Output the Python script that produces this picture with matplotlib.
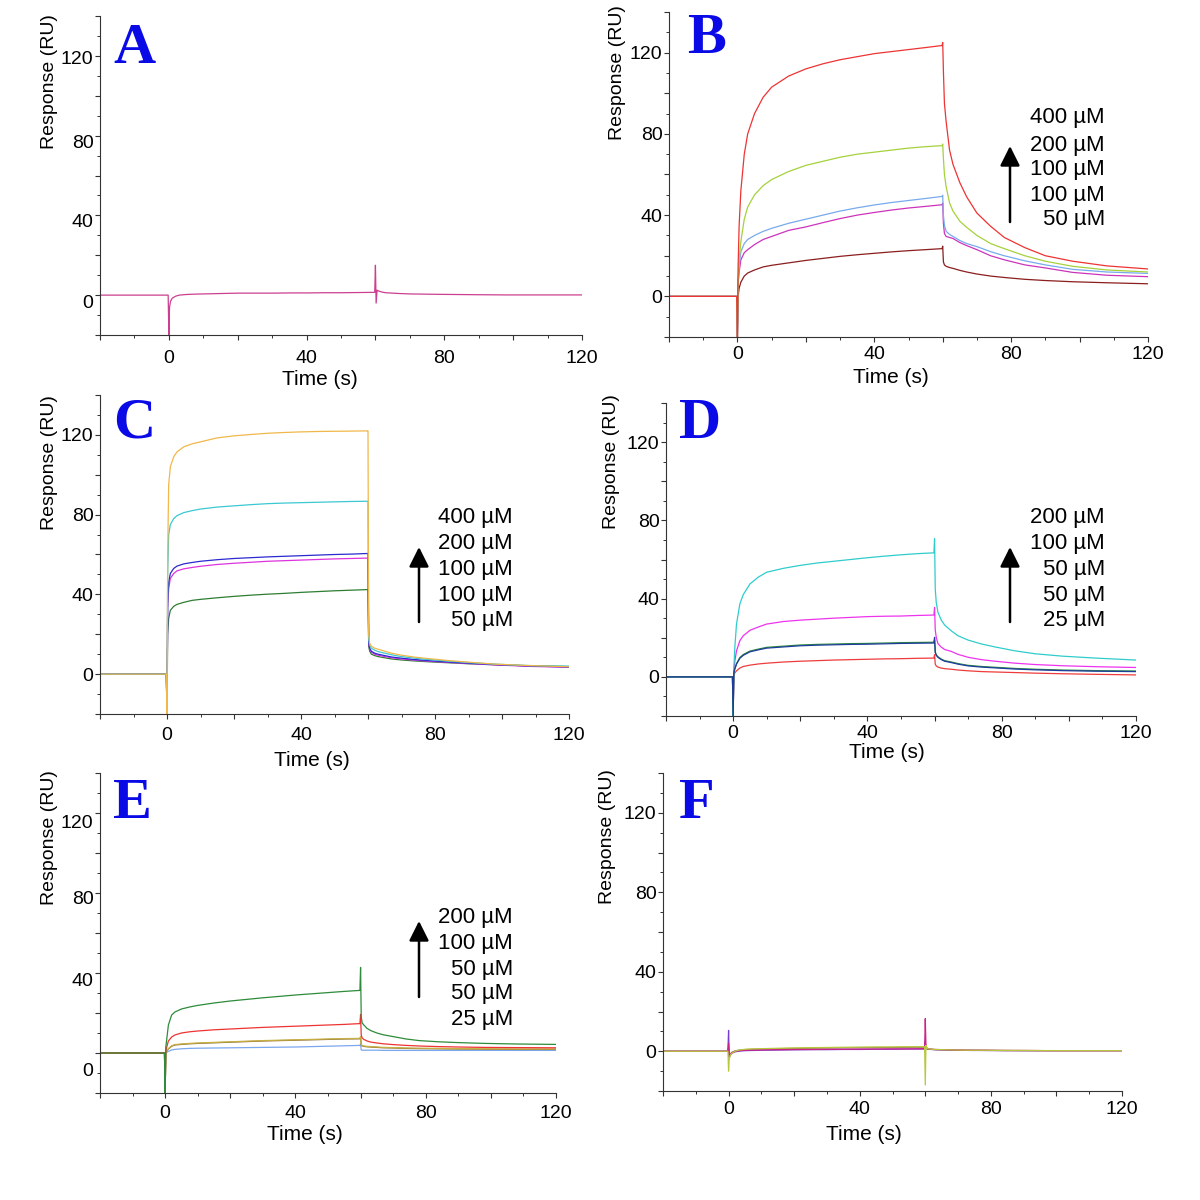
import matplotlib
matplotlib.use("Agg")
import matplotlib.pyplot as plt
from matplotlib import font_manager
from matplotlib.ticker import FixedLocator, MultipleLocator, FuncFormatter
from matplotlib.transforms import ScaledTranslation

# ---------------- data ----------------
TIME = [-20, -10, -0.2, 0.0, 0.2, 0.5, 1, 2, 3, 5, 7.5, 10, 15, 20, 25, 30, 35, 40, 45, 50,
        55, 59.8, 60.0, 60.2, 60.5, 61, 62, 63, 65, 67, 70, 74, 78, 84, 90, 98, 108, 120]

A_ctrl = [0, 0, 0, -20, -6, -3, -1.5, -0.5, 0, 0.3, 0.5, 0.6, 0.8, 1, 1, 1, 1.1, 1.1, 1.2, 1.2,
          1.3, 1.4, 15, -4, 2.5, 2, 1.5, 1.2, 1, 0.8, 0.6, 0.5, 0.4, 0.3, 0.2, 0.1, 0.1, 0.1]

B_400 = [0, 0, 0, -20, 15, 35, 52, 70, 80, 90, 98, 103, 108.5, 112, 114.5, 116.5, 118, 119.5, 120.5, 121.5,
         122.5, 123.5, 125, 111, 95, 86, 72, 65, 56, 49, 41, 34.5, 29, 24, 20, 17.3, 15, 13.5]
B_200 = [0, 0, 0, -20, 8, 18, 27, 38, 44, 50, 54.5, 57.5, 61.5, 64.5, 66.5, 68.5, 70, 71, 72, 73,
         73.7, 74.2, 75, 68, 60, 54, 46, 42, 37, 34, 30, 26, 23.5, 20, 17.3, 14.8, 13, 12]
B_100a = [0, 0, 0, -20, 8, 15, 22, 26, 28, 30, 32, 33.5, 36, 38, 40, 42, 43.6, 45, 46.2, 47.2,
          48.2, 49.2, 49.8, 40, 35, 32, 30.5, 29.5, 27.5, 26, 24.5, 22, 20, 17.5, 15.5, 13.3, 12, 11.3]
B_100b = [0, 0, 0, -20, 6, 12, 18, 21.5, 23, 25.5, 28, 29.5, 32.5, 34.2, 36.3, 38.3, 40, 41.3, 42.5, 43.5,
          44.3, 45.1, 46, 36, 31, 29.5, 29, 28.5, 26.5, 25, 23, 20, 18, 15.5, 14, 11.8, 10.4, 9.7]
B_50 = [0, 0, 0, -20, 0, 4, 7, 10, 11.5, 13, 14.5, 15.3, 16.5, 17.7, 18.7, 19.7, 20.5, 21.2, 21.9, 22.5,
        23, 23.5, 24.7, 17, 15.5, 14.8, 14.2, 13.8, 12.8, 12, 11, 10, 9.3, 8.4, 7.8, 7.2, 6.7, 6.2]

C_400 = [0, 0, 0, -20, 60, 95, 104, 109, 111.5, 114, 115.5, 116.5, 118.5, 119.5, 120.2, 120.8, 121.2, 121.5, 121.7, 121.8,
         121.9, 122, 122, 20, 15.5, 14, 13, 12.5, 11.5, 10.5, 9.5, 8.5, 7.8, 6.8, 6, 5, 4.3, 3.7]
C_200 = [0, 0, 0, -20, 50, 70, 75, 78, 79.5, 81, 82, 82.8, 83.8, 84.4, 85, 85.5, 85.8, 86, 86.2, 86.4,
         86.6, 86.7, 86.7, 18, 14.5, 13, 12, 11.3, 10.5, 9.7, 8.8, 8, 7.3, 6.5, 5.8, 5, 4.3, 4.0]
C_100a = [0, 0, 0, -20, 35, 46, 50.5, 53, 54.2, 55.3, 56, 56.6, 57.4, 58, 58.4, 58.8, 59.1, 59.4, 59.7, 60,
          60.2, 60.5, 60.5, 16, 13, 11.5, 10.5, 10, 9.3, 8.6, 8, 7.3, 6.8, 6.1, 5.5, 4.8, 4.1, 3.6]
C_100b = [0, 0, 0, -20, 33, 43, 48, 50.5, 51.8, 52.8, 53.5, 54.1, 55, 55.6, 56.1, 56.6, 56.9, 57.2, 57.5, 57.8,
          58, 58.2, 58.2, 15.5, 12.5, 11, 10, 9.5, 8.8, 8.2, 7.6, 7, 6.5, 5.9, 5.3, 4.6, 3.9, 3.4]
C_50 = [0, 0, 0, -20, 20, 28, 32, 34, 35, 36, 37, 37.5, 38.3, 39, 39.6, 40.1, 40.5, 41, 41.4, 41.8,
        42.1, 42.4, 42.4, 14, 11.5, 10, 9.3, 8.8, 8.2, 7.6, 7.1, 6.6, 6.2, 5.7, 5.2, 4.7, 4.2, 3.8]

D_200 = [0, 0, 0, -20, 4, 15, 27, 37.3, 42, 47.5, 51, 53.5, 55.5, 57, 58.2, 59.1, 60, 60.9, 61.7, 62.4,
         63, 63.4, 70.6, 45, 38, 33, 29, 26.5, 23.5, 21, 18.8, 16.8, 15.3, 13.3, 11.8, 10.6, 9.6, 8.6]
D_100 = [0, 0, 0, -20, 3, 8, 13.3, 18.5, 21, 23.8, 25.5, 27, 28.3, 29, 29.5, 30, 30.4, 30.8, 31, 31.1,
         31.4, 31.6, 35.5, 24, 20.2, 17, 15.2, 14, 13, 11.5, 10, 8.8, 8, 7, 6.3, 5.7, 5.2, 4.8]
D_50a = [0, 0, 0, -20, 2, 4.2, 6.8, 9.9, 11.4, 13.2, 14.2, 15.1, 15.7, 16.3, 16.6, 16.8, 17, 17.1, 17.3, 17.5,
         17.6, 17.7, 19, 12.8, 11.3, 10.3, 9.1, 8.3, 7.6, 6.8, 5.9, 5.3, 4.9, 4.3, 3.9, 3.5, 3.2, 3.0]
D_50b = [0, 0, 0, -20, 2, 4, 6.5, 9.5, 11, 12.8, 13.8, 14.7, 15.3, 15.9, 16.2, 16.4, 16.6, 16.7, 16.9, 17.1,
         17.2, 17.3, 20.2, 12.5, 11, 10, 8.8, 8, 7.3, 6.5, 5.6, 5, 4.6, 4, 3.6, 3.2, 2.9, 2.7]
D_25 = [0, 0, 0, -20, 1, 2, 3.1, 4.5, 5.3, 6, 6.6, 7, 7.6, 8, 8.3, 8.6, 8.8, 9, 9.2, 9.3,
        9.5, 9.6, 11.3, 6.5, 5.6, 5, 4.5, 4.2, 3.9, 3.5, 3.1, 2.7, 2.5, 2.2, 1.9, 1.6, 1.3, 1.0]

E_200 = [0, 0, 0, -20, 3, 7, 14, 19, 20.5, 22, 23, 23.8, 25, 26, 26.8, 27.6, 28.3, 29, 29.6, 30.2,
         30.8, 31.3, 42.8, 18, 15, 14, 12.3, 11.3, 10, 9.1, 8.2, 7, 6.2, 5.6, 5.2, 4.8, 4.5, 4.3]
E_100 = [0, 0, 0, -20, 1, 3, 6, 8, 9, 10, 10.6, 11, 11.6, 12, 12.4, 12.8, 13.1, 13.4, 13.7, 14,
         14.3, 14.7, 19.3, 9, 7.5, 6.8, 6, 5.5, 5, 4.6, 4.2, 3.8, 3.5, 3.2, 3, 2.8, 2.7, 2.6]
E_50a = [0, 0, 0, -20, 0.5, 1.2, 2.2, 3.6, 4.2, 4.5, 4.8, 5, 5.3, 5.6, 5.9, 6.2, 6.4, 6.6, 6.8, 7,
         7.2, 7.3, 8.2, 4.2, 3.7, 3.5, 3.3, 3.2, 3, 2.8, 2.7, 2.5, 2.4, 2.3, 2.2, 2.1, 2, 2]
E_50b = [0, 0, 0, -20, 0.5, 1, 2, 3.4, 4, 4.3, 4.6, 4.8, 5.1, 5.4, 5.7, 6, 6.2, 6.4, 6.6, 6.8,
         7, 7.1, 8, 4, 3.5, 3.3, 3.1, 3, 2.8, 2.6, 2.5, 2.3, 2.2, 2.1, 2, 1.9, 1.8, 1.8]
E_25 = [0, 0, 0, -20, 0, 0.3, 0.8, 1.5, 1.8, 2.1, 2.3, 2.4, 2.5, 2.6, 2.7, 2.8, 2.9, 3, 3.2, 3.4,
        3.6, 3.8, 4.5, 1.5, 1.4, 1.4, 1.4, 1.4, 1.4, 1.3, 1.3, 1.3, 1.3, 1.3, 1.3, 1.3, 1.3, 1.3]

F_s1 = [0, 0, 0, -10, -4, -2, -1, 0, 0.5, 1, 1.2, 1.3, 1.5, 1.7, 1.8, 1.9, 2, 2.1, 2.2, 2.2,
        2.3, 2.3, -17, 3, 1.5, 1.2, 1, 0.9, 0.8, 0.7, 0.6, 0.5, 0.5, 0.4, 0.4, 0.3, 0.3, 0.3]
F_s2 = [0, 0, 0, 10.5, -3, -2, -1, -0.3, 0, 0.3, 0.4, 0.5, 0.6, 0.7, 0.8, 0.8, 0.9, 0.9, 1, 1,
        1.1, 1.1, 5, 1.5, 1.2, 1, 0.9, 0.8, 0.7, 0.6, 0.5, 0.4, 0.4, 0.3, 0.3, 0.3, 0.3, 0.3]
F_s3 = [0, 0, 0, 4, -3, -1.5, -0.8, 0, 0.3, 0.5, 0.6, 0.7, 0.8, 0.9, 0.9, 1, 1, 1.1, 1.1, 1.2,
        1.2, 1.3, 16.4, 3, 1.5, 1.2, 1, 0.9, 0.8, 0.7, 0.6, 0.5, 0.5, 0.4, 0.4, 0.3, 0.3, 0.3]
F_s4 = [0, 0, 0, 2, -2, -1.5, -0.5, 0.2, 0.5, 0.8, 1, 1.1, 1.3, 1.4, 1.5, 1.6, 1.7, 1.8, 1.8, 1.9,
        2, 2, 4, 2, 1.2, 1, 0.9, 0.8, 0.7, 0.6, 0.5, 0.5, 0.4, 0.4, 0.3, 0.3, 0.3, 0.3]

CONC_BC = ["400 µM", "200 µM", "100 µM", "100 µM", "50 µM"]
CONC_DE = ["200 µM", "100 µM", "50 µM", "50 µM", "25 µM"]
TICK_LABELS = [0, 40, 80, 120]

# ---------------- fonts ----------------
names = {f.name for f in font_manager.fontManager.ttflist}
narrow = [n for n in ["Liberation Sans Narrow", "Arial Narrow"] if n in names]
NARROW_FAM = narrow[:1] + ["Liberation Sans", "DejaVu Sans"]
SANS_FAM = ["Liberation Sans", "DejaVu Sans"]
SERIF_FAM = ["Liberation Serif", "DejaVu Serif"]
TICK_SIZE = 16 if narrow else 14
YLAB_SIZE = 16 if narrow else 14
XLAB_SIZE = 16 if narrow else 15

W = H = 1200
fig = plt.figure(figsize=(12, 12), dpi=100)
fig.patch.set_facecolor("white")


def fx(px):
    return px / W


def fy(py):
    return 1 - py / H


def make_axes(left, right, top, bottom, xpad):
    ax = fig.add_axes([fx(left), fy(bottom), fx(right - left), (bottom - top) / H])
    ax.set_xlim(-20, 120)
    ax.set_ylim(-20, 140)
    ax.set_facecolor("none")
    for s in ("top", "right"):
        ax.spines[s].set_visible(False)
    for s in ("left", "bottom"):
        ax.spines[s].set_color("#333333")
        ax.spines[s].set_linewidth(0.8)
    fmt = FuncFormatter(lambda v, p: f"{int(round(v))}" if int(round(v)) in TICK_LABELS else "")
    ax.xaxis.set_major_locator(FixedLocator(list(range(-20, 121, 20))))
    ax.xaxis.set_minor_locator(MultipleLocator(10))
    ax.yaxis.set_major_locator(FixedLocator(list(range(-20, 141, 20))))
    ax.yaxis.set_minor_locator(MultipleLocator(10))
    ax.xaxis.set_major_formatter(fmt)
    ax.yaxis.set_major_formatter(fmt)
    ax.tick_params(which="major", direction="out", length=3.5, width=0.8, color="#333333")
    ax.tick_params(which="minor", direction="out", length=2.2, width=0.7, color="#333333")
    ax.tick_params(axis="y", which="major", pad=1.2)
    ax.tick_params(axis="x", which="major", pad=xpad)
    for lab in ax.get_xticklabels() + ax.get_yticklabels():
        lab.set_fontfamily(NARROW_FAM)
        lab.set_fontsize(TICK_SIZE)
        lab.set_color("black")
    return ax


def shift_ylabels(ax, offsets_px):
    fig.canvas.draw()
    for lab in ax.get_yticklabels():
        txt = lab.get_text()
        if txt in offsets_px:
            dy = -offsets_px[txt] / 100.0
            lab.set_transform(lab.get_transform() + ScaledTranslation(0, dy, fig.dpi_scale_trans))


def decorate(ax, letter, lx, ly, rx, ry, tx, ty):
    fig.text(fx(lx), fy(ly), letter, family=SERIF_FAM, weight="bold", size=42,
             color="#0a0ae6", ha="center", va="baseline")
    fig.text(fx(rx), fy(ry), "Response (RU)", family=NARROW_FAM, size=YLAB_SIZE,
             rotation=90, ha="center", va="center")
    fig.text(fx(tx), fy(ty), "Time (s)", family=NARROW_FAM, size=XLAB_SIZE,
             ha="center", va="center")


def conc_labels(labels, right_px, ys, ax_x, tip_y, tail_y):
    for lab, y in zip(labels, ys):
        fig.text(fx(right_px), fy(y), lab, family=SANS_FAM, size=16, ha="right", va="center")
    fig.add_artist(matplotlib.patches.FancyArrowPatch(
        (fx(ax_x), fy(tail_y)), (fx(ax_x), fy(tip_y)), transform=fig.transFigure,
        arrowstyle="-|>", mutation_scale=30, lw=1.8, color="black", shrinkA=0, shrinkB=0))


LW = 0.9

# ---- A ----
axA = make_axes(100, 582, 16, 335, 7)
axA.plot(TIME, A_ctrl, color="#cc3f8f", lw=LW)
decorate(axA, "A", 134, 63, 50, 82, 320, 379)

# ---- B ----
axB = make_axes(669, 1148, 12, 337, 3)
for ys, c in [(B_50, "#8b1e1e"), (B_100b, "#cc33bb"), (B_100a, "#78aaee"),
              (B_200, "#a5d23c"), (B_400, "#ee3333")]:
    axB.plot(TIME, ys, color=c, lw=LW)
decorate(axB, "B", 706, 53, 618, 73, 891, 378)
conc_labels(CONC_BC, 1105, [118, 145, 170, 195, 220], 1010, 146, 222)

# ---- C ----
axC = make_axes(100, 569, 395, 714, 6)
for ys, c in [(C_50, "#2e7d32"), (C_100b, "#dd33dd"), (C_100a, "#2a2ad0"),
              (C_200, "#3cc8d2"), (C_400, "#f0b84a")]:
    axC.plot(TIME, ys, color=c, lw=LW)
decorate(axC, "C", 134, 438, 50, 463, 312, 760)
conc_labels(CONC_BC, 513, [518, 544, 570, 595, 620], 419, 547, 622)

# ---- D ----
axD = make_axes(666, 1136, 403, 716, 3)
for ys, c in [(D_25, "#ee3c3c"), (D_100, "#ee33ee"), (D_200, "#30cccc"),
              (D_50a, "#2e8b3e"), (D_50b, "#1e3c9c")]:
    axD.plot(TIME, ys, color=c, lw=LW)
decorate(axD, "D", 700, 438, 612, 462, 887, 752)
conc_labels(CONC_DE, 1105, [518, 544, 570, 595, 620], 1010, 547, 622)

# ---- E ----
axE = make_axes(100, 556, 773, 1093, 5)
for ys, c in [(E_25, "#7ba7ee"), (E_50b, "#8b6b3a"), (E_50a, "#c8b040"),
              (E_100, "#ee3333"), (E_200, "#2e8b3a")]:
    axE.plot(TIME, ys, color=c, lw=LW)
decorate(axE, "E", 132, 818, 50, 838, 305, 1134)
conc_labels(CONC_DE, 513, [918, 943, 969, 994, 1020], 419, 921, 997)

# ---- F ----
axF = make_axes(663, 1122, 773, 1091, 4)
for ys, c in [(F_s4, "#9a7a5a"), (F_s2, "#7a3cd0"), (F_s3, "#cc2288"), (F_s1, "#b8c83c")]:
    axF.plot(TIME, ys, color=c, lw=LW)
decorate(axF, "F", 697, 818, 608, 837, 864, 1134)

shift_ylabels(axA, {"0": 6, "40": 5, "80": 6, "120": 2})
shift_ylabels(axE, {"0": 16, "40": 6, "80": 5, "120": 8})

fig.savefig("out.png", dpi=100, facecolor="white")
